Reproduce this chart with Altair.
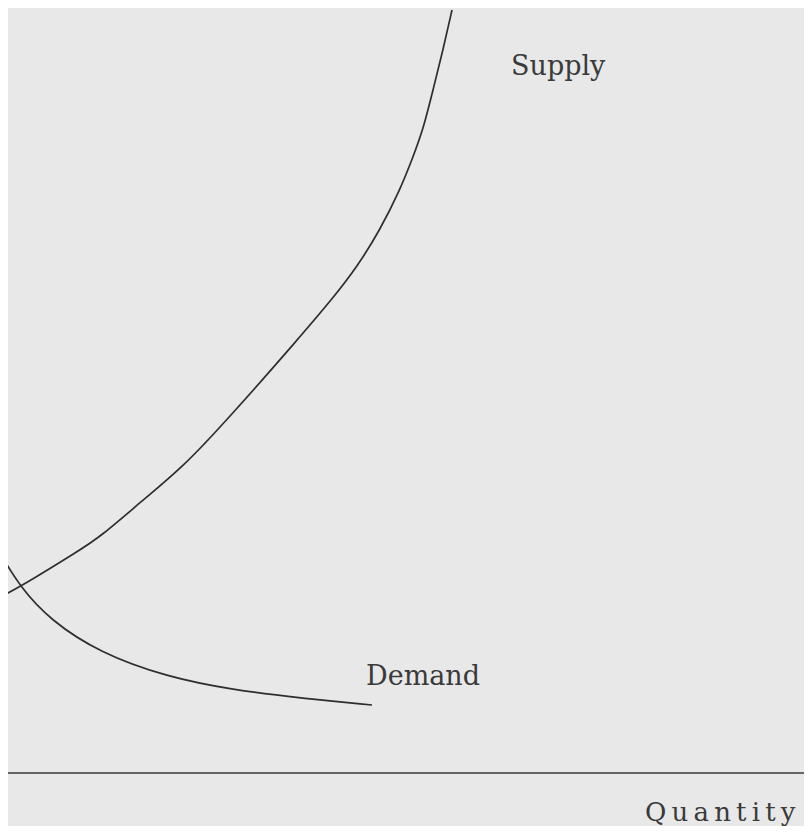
import altair as alt
import pandas as pd

# Supply curve (quantity, price)
supply_q = [0, 20, 80, 100, 143, 183, 227, 300, 333, 357, 380, 400, 413, 423, 433, 443, 452]
supply_p = [237, 247, 284, 297, 334, 367, 414, 497, 536, 567, 604, 644, 677, 704, 744, 784, 824]

# Demand curve
demand_q = [0, 20, 50, 100, 167, 233, 300, 372]
demand_p = [281, 247, 214, 181, 157, 144, 136, 129]

# Quantity axis line
axis_q = [0, 812]
axis_p = [61, 61]

# Labels
label_text = ["Supply", "Demand"]
label_q = [511, 366]
label_p = [759, 149]

axis_title = ["Q\u2009u\u2009a\u2009n\u2009t\u2009i\u2009t\u2009y"]
axis_title_q = [645]
axis_title_p = [13]

curves = pd.DataFrame({
    "q": supply_q + demand_q,
    "p": supply_p + demand_p,
    "curve": ["Supply"] * len(supply_q) + ["Demand"] * len(demand_q),
    "order": list(range(len(supply_q))) + list(range(len(demand_q))),
})
axis_df = pd.DataFrame({"q": [axis_q[0]], "q2": [axis_q[1]], "p": [axis_p[0]]})
labels_df = pd.DataFrame({"t": label_text, "q": label_q, "p": label_p})
title_df = pd.DataFrame({"t": axis_title, "q": axis_title_q, "p": axis_title_p})

xs = alt.Scale(domain=[8, 804], nice=False, zero=False)
ys = alt.Scale(domain=[8, 826], nice=False, zero=False)

lines = alt.Chart(curves).mark_line(
    color="#2e2e2e", strokeWidth=1.7, clip=True, interpolate="basis"
).encode(
    x=alt.X("q:Q", scale=xs, axis=None),
    y=alt.Y("p:Q", scale=ys, axis=None),
    detail="curve:N",
    order="order:Q",
)

axis_line = alt.Chart(axis_df).mark_rule(color="#3a3a3a", strokeWidth=1.6, clip=True).encode(
    x=alt.X("q:Q", scale=xs, axis=None),
    x2="q2:Q",
    y=alt.Y("p:Q", scale=ys, axis=None),
)

labels = alt.Chart(labels_df).mark_text(
    font="DejaVu Serif", fontSize=27, color="#3a3a3a", align="left", baseline="alphabetic"
).encode(
    x=alt.X("q:Q", scale=xs, axis=None),
    y=alt.Y("p:Q", scale=ys, axis=None),
    text="t:N",
)

title = alt.Chart(title_df).mark_text(
    font="DejaVu Serif", fontSize=26, color="#3a3a3a", align="left", baseline="alphabetic"
).encode(
    x=alt.X("q:Q", scale=xs, axis=None),
    y=alt.Y("p:Q", scale=ys, axis=None),
    text="t:N",
)

chart = alt.layer(lines, axis_line, labels, title).properties(
    width=796,
    height=818,
    background="#e8e8e8",
    padding=0,
    autosize=alt.AutoSizeParams(type="fit", contains="padding"),
).configure_view(stroke=None)

chart.save("out.html", embed_options={"renderer": "svg", "actions": False})
